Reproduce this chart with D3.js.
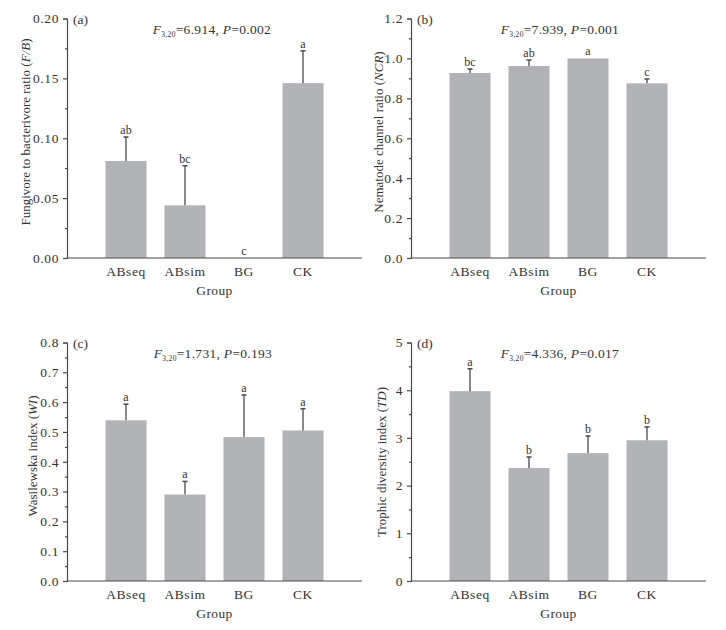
<!DOCTYPE html>
<html>
<head>
<meta charset="utf-8">
<script src="https://cdn.jsdelivr.net/npm/d3@7"></script>
<style>
  body { margin: 0; background: #fff; }
  text { font-family: "Liberation Serif", "DejaVu Serif", serif; fill: #333; }
</style>
</head>
<body>
<div id="graph"></div>
<script>
var w = 726, h = 630

var groups = ["ABseq", "ABsim", "BG", "CK"]

// (a) F/B
var fbMean = [0.081, 0.044, 0, 0.146]
var fbErr = [0.020, 0.033, 0, 0.027]
var fbLetters = ["ab", "bc", "c", "a"]
// (b) NCR
var ncrMean = [0.927, 0.962, 1.0, 0.875]
var ncrErr = [0.020, 0.030, 0, 0.022]
var ncrLetters = ["bc", "ab", "a", "c"]
// (c) WI
var wiMean = [0.539, 0.290, 0.483, 0.505]
var wiErr = [0.054, 0.044, 0.141, 0.073]
var wiLetters = ["a", "a", "a", "a"]
// (d) TD
var tdMean = [3.98, 2.37, 2.68, 2.95]
var tdErr = [0.47, 0.23, 0.36, 0.28]
var tdLetters = ["a", "b", "b", "b"]

var panels = [
  {tag: "(a)", mean: fbMean, err: fbErr, letters: fbLetters, max: 0.20, major: 0.05, fmt: ".2f",
   title: ["Fungivore to bacterivore ratio (", "F/B", ")"], stat: ["6.914", "0.002"],
   x0: 67, x1: 362, yTop: 18.5, yBot: 258, titleX: 25, titleY: 132, statX: 212},
  {tag: "(b)", mean: ncrMean, err: ncrErr, letters: ncrLetters, max: 1.2, major: 0.2, fmt: ".1f",
   title: ["Nematode channel ratio (", "NCR", ")"], stat: ["7.939", "0.001"],
   x0: 411, x1: 706, yTop: 18.5, yBot: 258, titleX: 378, titleY: 132, statX: 560},
  {tag: "(c)", mean: wiMean, err: wiErr, letters: wiLetters, max: 0.8, major: 0.1, fmt: ".1f",
   title: ["Wasilewska index (", "WI", ")"], stat: ["1.731", "0.193"],
   x0: 67, x1: 362, yTop: 342.5, yBot: 581, titleX: 32, titleY: 456, statX: 213},
  {tag: "(d)", mean: tdMean, err: tdErr, letters: tdLetters, max: 5, major: 1, fmt: "d",
   title: ["Trophic diversity index (", "TD", ")"], stat: ["4.336", "0.017"],
   x0: 411, x1: 706, yTop: 342.5, yBot: 581, titleX: 381, titleY: 462, statX: 560}
]

var svg = d3.select('#graph')
  .append('svg')
  .attr("width", w)
  .attr("height", h)

var axisColour = "#4a4a4a"
var barColour = "#b2b3b7"

panels.forEach(function(p) {
  var g = svg.append("g")

  var x = d3.scaleBand()
    .domain(groups)
    .range([p.x0, p.x1])
    .paddingInner(0.305)
    .paddingOuter(0.6525)

  var y = d3.scaleLinear()
    .domain([0, p.max])
    .range([p.yBot, p.yTop])

  var data = groups.map(function(gr, i) {
    return {group: gr, mean: p.mean[i], err: p.err[i], letter: p.letters[i]}
  })

  // bars
  g.selectAll(".bar")
    .data(data)
    .enter()
    .append("rect")
    .attr("class", "bar")
    .attr("x", d => x(d.group))
    .attr("width", x.bandwidth())
    .attr("y", d => y(d.mean))
    .attr("height", d => y(0) - y(d.mean))
    .style("fill", barColour)

  // error bars (upper only)
  var eb = g.selectAll(".err")
    .data(data.filter(d => d.err > 0))
    .enter()
    .append("g")
  eb.append("line")
    .attr("x1", d => x(d.group) + x.bandwidth() / 2)
    .attr("x2", d => x(d.group) + x.bandwidth() / 2)
    .attr("y1", d => y(d.mean))
    .attr("y2", d => y(d.mean + d.err))
    .attr("stroke", axisColour)
    .attr("stroke-width", 1.3)
  eb.append("line")
    .attr("x1", d => x(d.group) + x.bandwidth() / 2 - 2.5)
    .attr("x2", d => x(d.group) + x.bandwidth() / 2 + 2.5)
    .attr("y1", d => y(d.mean + d.err))
    .attr("y2", d => y(d.mean + d.err))
    .attr("stroke", axisColour)
    .attr("stroke-width", 1.5)

  // significance letters
  g.selectAll(".letter")
    .data(data)
    .enter()
    .append("text")
    .attr("x", d => x(d.group) + x.bandwidth() / 2)
    .attr("y", d => y(d.mean + d.err) - 3)
    .attr("text-anchor", "middle")
    .style("font-size", "12px")
    .text(d => d.letter)

  // y axis with minor ticks
  var majors = d3.range(0, p.max + p.major / 2, p.major)
  var minors = d3.range(p.major / 2, p.max, p.major)
  var yAxis = g.append("g")
    .attr("transform", "translate(" + p.x0 + ",0)")
    .call(d3.axisLeft(y).tickValues(majors).tickFormat(d3.format(p.fmt)).tickSize(4).tickPadding(4))
  yAxis.selectAll(".tick text")
    .style("font-size", "13.5px")
    .style("font-family", "Liberation Serif")
    .style("letter-spacing", "0.6px")
    .attr("fill", "#333")
  g.append("g")
    .attr("transform", "translate(" + p.x0 + ",0)")
    .call(d3.axisLeft(y).tickValues(minors).tickFormat("").tickSize(2))
    .call(a => a.select(".domain").remove())
  g.selectAll(".domain, .tick line").attr("stroke", axisColour).attr("stroke-width", 1.2)

  // x axis
  var xAxis = g.append("g")
    .attr("transform", "translate(0," + p.yBot + ")")
    .call(d3.axisBottom(x).tickSize(0).tickPadding(8))
  xAxis.select(".domain")
    .attr("d", "M" + p.x0 + ",0H" + p.x1)
    .attr("stroke", axisColour)
    .attr("stroke-width", 1.2)
  xAxis.selectAll(".tick text")
    .style("font-size", "13.5px")
    .style("font-family", "Liberation Serif")
    .style("letter-spacing", "0.6px")
    .attr("fill", "#333")

  g.append("text")
    .attr("x", (p.x0 + p.x1) / 2)
    .attr("y", p.yBot + 37)
    .attr("text-anchor", "middle")
    .style("font-size", "13.5px")
    .style("letter-spacing", "0.4px")
    .text("Group")

  // y title
  var yt = g.append("text")
    .attr("transform", "translate(" + p.titleX + "," + p.titleY + ") rotate(-90)")
    .attr("text-anchor", "middle")
    .attr("dy", "0.35em")
    .style("font-size", "13px")
  yt.append("tspan").text(p.title[0])
  yt.append("tspan").style("font-style", "italic").text(p.title[1])
  yt.append("tspan").text(p.title[2])

  // panel tag
  g.append("text")
    .attr("x", p.x0 + 6)
    .attr("y", p.yTop + 5)
    .style("font-size", "13.5px")
    .text(p.tag)

  // F statistic
  var st = g.append("text")
    .attr("x", p.statX)
    .attr("y", p.yTop + 15)
    .attr("text-anchor", "middle")
    .style("font-size", "13.5px")
    .style("letter-spacing", "0.3px")
  st.append("tspan").style("font-style", "italic").text("F")
  st.append("tspan").attr("dy", 3).style("font-size", "7.5px").text("3,20")
  st.append("tspan").attr("dy", -3).text("=" + p.stat[0] + ", ")
  st.append("tspan").style("font-style", "italic").text("P")
  st.append("tspan").text("=" + p.stat[1])
})
</script>
</body>
</html>
